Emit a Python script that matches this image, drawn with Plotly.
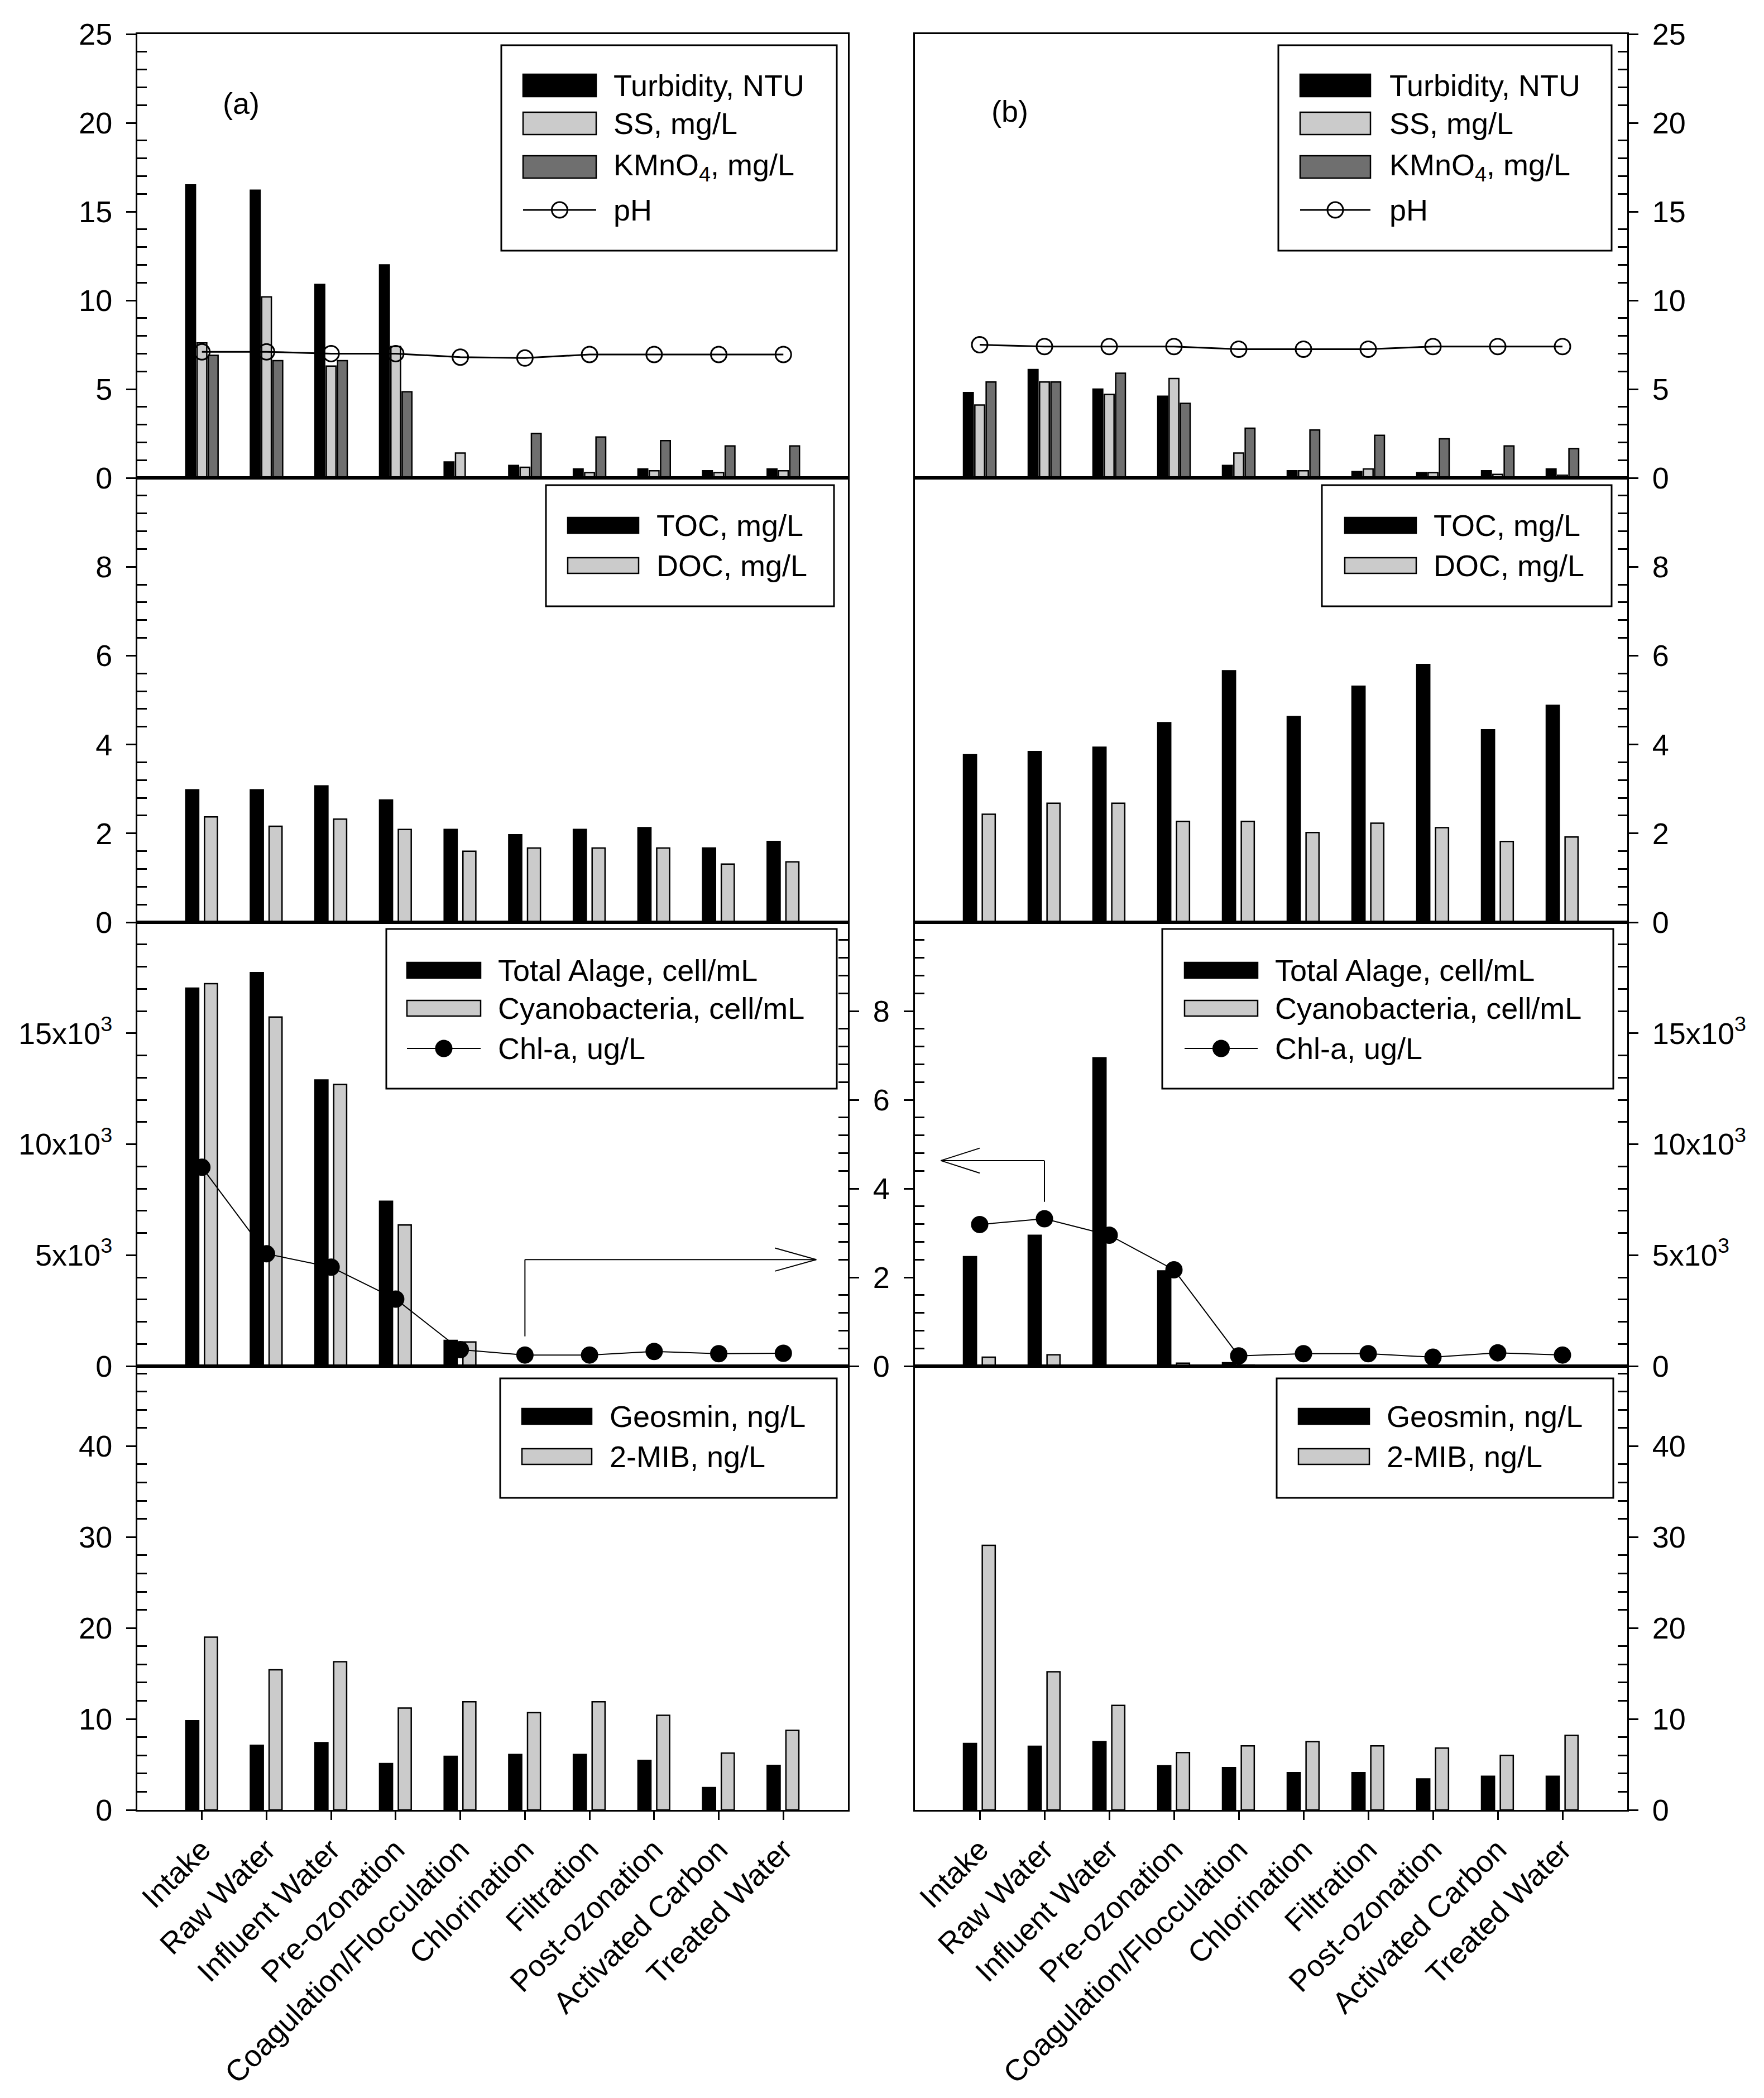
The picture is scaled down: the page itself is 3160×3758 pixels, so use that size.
import plotly.graph_objects as go

# ---------------- data ----------------
CATEGORIES = ["Intake", "Raw Water", "Influent Water", "Pre-ozonation",
              "Coagulation/Flocculation", "Chlorination", "Filtration",
              "Post-ozonation", "Activated Carbon", "Treated Water"]

A_TURBIDITY = [16.5, 16.2, 10.9, 12.0, 0.9, 0.7, 0.5, 0.5, 0.4, 0.5]
A_SS = [7.6, 10.2, 6.3, 7.4, 1.4, 0.6, 0.3, 0.4, 0.3, 0.4]
A_KMNO4 = [6.9, 6.6, 6.6, 4.85, None, 2.5, 2.3, 2.1, 1.8, 1.8]
A_PH = [7.1, 7.1, 7.0, 7.0, 6.8, 6.75, 6.95, 6.95, 6.95, 6.95]

B_TURBIDITY = [4.8, 6.1, 5.0, 4.6, 0.7, 0.4, 0.35, 0.3, 0.4, 0.5]
B_SS = [4.1, 5.4, 4.7, 5.6, 1.4, 0.4, 0.5, 0.3, 0.2, 0.15]
B_KMNO4 = [5.4, 5.4, 5.9, 4.2, 2.8, 2.7, 2.4, 2.2, 1.8, 1.65]
B_PH = [7.5, 7.4, 7.4, 7.4, 7.25, 7.25, 7.25, 7.4, 7.4, 7.4]

A_TOC = [2.98, 2.98, 3.07, 2.75, 2.09, 1.97, 2.09, 2.13, 1.67, 1.82]
A_DOC = [2.37, 2.16, 2.32, 2.09, 1.60, 1.67, 1.67, 1.67, 1.31, 1.36]
B_TOC = [3.77, 3.84, 3.94, 4.49, 5.66, 4.63, 5.31, 5.80, 4.33, 4.88]
B_DOC = [2.43, 2.68, 2.68, 2.27, 2.27, 2.02, 2.23, 2.13, 1.82, 1.92]

A_ALGAE = [17030, 17730, 12890, 7430, 1160, None, None, None, None, None]
A_CYANO = [17230, 15730, 12690, 6360, 1090, None, None, None, None, None]
A_CHLA = [4.48, 2.53, 2.23, 1.51, 0.37, 0.25, 0.25, 0.33, 0.28, 0.29]
B_ALGAE = [4930, 5890, 13890, 4290, 150, None, None, None, None, None]
B_CYANO = [400, 510, None, 130, 50, None, None, None, None, None]
B_CHLA = [3.19, 3.32, 2.95, 2.17, 0.23, 0.28, 0.28, 0.20, 0.30, 0.25]

A_GEOSMIN = [9.8, 7.1, 7.4, 5.1, 5.9, 6.1, 6.1, 5.45, 2.45, 4.9]
A_MIB = [19.0, 15.4, 16.3, 11.2, 11.9, 10.7, 11.9, 10.4, 6.25, 8.75]
B_GEOSMIN = [7.3, 7.0, 7.5, 4.85, 4.65, 4.1, 4.1, 3.4, 3.7, 3.7]
B_MIB = [29.1, 15.2, 11.5, 6.3, 7.05, 7.5, 7.05, 6.8, 6.0, 8.2]

ROW3_TICKTEXT = ["0", "5x10<sup>3</sup>", "10x10<sup>3</sup>", "15x10<sup>3</sup>"]

# ---------------- style / geometry ----------------
W, H = 3160, 3758
PAGE_OFFSET = 8  # default page margin of the html body
FONT = "Liberation Sans, Arial, sans-serif"
FS = 54
LIGHT = "#cbcbcb"
DARK = "#6f6f6f"
LW = 3

PANEL_X = {"a": (246, 1519), "b": (1639, 2915)}
ROW_Y = [(61, 856), (856, 1652), (1652, 2447), (2447, 3242)]


def fx(p):
    return (p - PAGE_OFFSET) / W


def fy(p):
    return 1 - (p - PAGE_OFFSET) / H


def xkey(i):
    return "xaxis" if i == 1 else f"xaxis{i}"


def ykey(i):
    return "yaxis" if i == 1 else f"yaxis{i}"


def xref(i):
    return "x" if i == 1 else f"x{i}"


def yref(i):
    return "y" if i == 1 else f"y{i}"


ROW_SPECS = [
    dict(range=[0, 25], major=[0, 5, 10, 15, 20, 25], text=None, step=1.0),
    dict(range=[0, 10], major=[0, 2, 4, 6, 8], text=None, step=0.4),
    dict(range=[0, 20000], major=[0, 5000, 10000, 15000], text=ROW3_TICKTEXT, step=1000),
    dict(range=[0, 48.8], major=[0, 10, 20, 30, 40], text=None, step=2),
]


def minor_vals(lo, hi, step, majors):
    out = []
    n = int(round((hi - lo) / step))
    for k in range(1, n + 1):
        v = round(lo + k * step, 6)
        if v >= hi - 1e-9:
            continue
        if all(abs(v - m) > step * 0.01 for m in majors):
            out.append(v)
    return out


AX_LINE = dict(showline=True, linecolor="black", linewidth=LW, zeroline=False,
               showgrid=False, automargin=False)
TICKFONT = dict(family=FONT, size=FS, color="black")

layout = dict(width=W, height=H, margin=dict(l=0, r=0, t=0, b=0, pad=0),
              autosize=False,
              plot_bgcolor="white", paper_bgcolor="white", showlegend=False,
              barmode="overlay", hovermode=False,
              font=dict(family=FONT, size=FS, color="black"))


def yaxis_spec(spec, side, show_ticks, show_labels, anchor, overlay=None,
               domain=None):
    d = dict(AX_LINE)
    d.update(range=spec["range"], side=side, anchor=anchor, tickfont=TICKFONT)
    if domain is not None:
        d["domain"] = domain
    if overlay:
        d["overlaying"] = overlay
    else:
        d["mirror"] = True
    if show_ticks:
        d.update(tickmode="array", tickvals=spec["major"],
                 ticktext=spec["text"] if spec["text"] else [str(v) for v in spec["major"]],
                 ticks="outside", ticklen=17, tickwidth=LW, tickcolor="black",
                 showticklabels=show_labels, ticklabelstandoff=14,
                 minor=dict(tickmode="array",
                            tickvals=minor_vals(spec["range"][0], spec["range"][1],
                                                spec["step"], spec["major"]),
                            ticks="inside", ticklen=17, tickwidth=LW,
                            tickcolor="black", showgrid=False))
    else:
        d.update(ticks="", showticklabels=False)
    return d


for panel, base in (("a", 0), ("b", 4)):
    side = "left" if panel == "a" else "right"
    xd = [fx(PANEL_X[panel][0]), fx(PANEL_X[panel][1])]
    for r in range(4):
        i = base + r + 1
        yd = [fy(ROW_Y[r][1]), fy(ROW_Y[r][0])]
        xa = dict(AX_LINE)
        xa.update(domain=xd, anchor=yref(i), type="category", range=[-1, 10],
                  categoryorder="array", categoryarray=CATEGORIES, mirror=True)
        if r == 3:
            xa.update(ticks="outside", ticklen=15, tickwidth=LW, tickcolor="black",
                      tickangle=-45, showticklabels=True, tickfont=TICKFONT)
        else:
            xa.update(ticks="", showticklabels=False)
        layout[xkey(i)] = xa
        layout[ykey(i)] = yaxis_spec(ROW_SPECS[r], side, True, True, xref(i),
                                     domain=yd)

CHLA_SPEC = dict(range=[0, 10], major=[0, 2, 4, 6, 8], text=None, step=0.4)
layout["yaxis9"] = yaxis_spec(CHLA_SPEC, "right", True, True, "x3", overlay="y3")
layout["yaxis10"] = yaxis_spec(CHLA_SPEC, "left", True, False, "x7", overlay="y7")

fig = go.Figure()


def bar(i, y, color, offset, width, yax=None):
    fig.add_trace(go.Bar(x=CATEGORIES, y=y, xaxis=xref(i), yaxis=yax or yref(i),
                         offset=offset, width=width,
                         marker=dict(color=color, line=dict(color="black", width=2.5)),
                         hoverinfo="skip"))


def line(i, y, yax, symbol, lw):
    fig.add_trace(go.Scatter(x=CATEGORIES, y=y, xaxis=xref(i), yaxis=yax,
                             mode="lines+markers",
                             line=dict(color="black", width=lw),
                             marker=dict(symbol=symbol, size=28, color="black",
                                         line=dict(color="black", width=3)),
                             hoverinfo="skip"))


# row 1
for base, turb, ss, kmno, ph in ((0, A_TURBIDITY, A_SS, A_KMNO4, A_PH),
                                 (4, B_TURBIDITY, B_SS, B_KMNO4, B_PH)):
    i = base + 1
    bar(i, turb, "black", -0.25, 0.15)
    bar(i, ss, LIGHT, -0.075, 0.15)
    bar(i, kmno, DARK, 0.10, 0.15)
    line(i, ph, yref(i), "circle-open", 3)

# row 2
for base, toc, doc in ((0, A_TOC, A_DOC), (4, B_TOC, B_DOC)):
    i = base + 2
    bar(i, toc, "black", -0.25, 0.2)
    bar(i, doc, LIGHT, 0.04, 0.2)

# row 3
for base, alg, cy, chl, chl_ax in ((0, A_ALGAE, A_CYANO, A_CHLA, "y9"),
                                   (4, B_ALGAE, B_CYANO, B_CHLA, "y10")):
    i = base + 3
    bar(i, alg, "black", -0.25, 0.2)
    bar(i, cy, LIGHT, 0.04, 0.2)
    line(i, chl, chl_ax, "circle", 2)

# row 4
for base, geo, mib in ((0, A_GEOSMIN, A_MIB), (4, B_GEOSMIN, B_MIB)):
    i = base + 4
    bar(i, geo, "black", -0.25, 0.2)
    bar(i, mib, LIGHT, 0.04, 0.2)

# ---------------- manual legends ----------------
shapes = []
annotations = []


def box(x0, y0, x1, y1):
    shapes.append(dict(type="rect", xref="paper", yref="paper", x0=fx(x0), x1=fx(x1),
                       y0=fy(y1), y1=fy(y0), line=dict(color="black", width=LW),
                       fillcolor="white", layer="above"))


def swatch(x0, x1, yc, h, color):
    shapes.append(dict(type="rect", xref="paper", yref="paper", x0=fx(x0), x1=fx(x1),
                       y0=fy(yc + h / 2), y1=fy(yc - h / 2),
                       line=dict(color="black", width=2.5), fillcolor=color,
                       layer="above"))


def lmarker(x0, x1, yc, filled, lw):
    shapes.append(dict(type="line", xref="paper", yref="paper", x0=fx(x0), x1=fx(x1),
                       y0=fy(yc), y1=fy(yc), line=dict(color="black", width=lw),
                       layer="above"))
    cx = (x0 + x1) / 2
    shapes.append(dict(type="circle", xref="paper", yref="paper",
                       xsizemode="pixel", ysizemode="pixel",
                       xanchor=fx(cx), yanchor=fy(yc), x0=-14, x1=14, y0=-14, y1=14,
                       line=dict(color="black", width=3),
                       fillcolor="black" if filled else "rgba(0,0,0,0)",
                       layer="above"))


def text(x, yc, s):
    annotations.append(dict(xref="paper", yref="paper", x=fx(x), y=fy(yc), text=s,
                            xanchor="left", yanchor="middle", showarrow=False,
                            font=dict(family=FONT, size=FS, color="black")))


LEG1 = [("black", "Turbidity, NTU", 153), (LIGHT, "SS, mg/L", 221),
        (DARK, "KMnO<sub>4</sub>, mg/L", 299)]
for bx, sx, tx in (((898, 81, 1499, 449), (937, 1068), 1097),
                   ((2290, 81, 2887, 449), (2329, 2455), 2487)):
    box(*bx)
    for col, lab, yc in LEG1:
        swatch(sx[0], sx[1], yc, 40, col)
        text(tx, yc, lab)
    lmarker(sx[0], sx[1], 376, False, 3)
    text(tx, 376, "pH")

for bx, sx, tx in (((978, 869, 1494, 1086), (1017, 1144), 1174),
                   ((2368, 869, 2887, 1086), (2409, 2537), 2566)):
    box(*bx)
    swatch(sx[0], sx[1], 941, 28, "black")
    text(tx, 941, "TOC, mg/L")
    swatch(sx[0], sx[1], 1013, 28, LIGHT)
    text(tx, 1013, "DOC, mg/L")

for bx, sx, tx in (((692, 1664, 1499, 1950), (729, 861), 890),
                   ((2082, 1664, 2890, 1950), (2122, 2253), 2282)):
    box(*bx)
    swatch(sx[0], sx[1], 1738, 28, "black")
    text(tx, 1738, "Total Alage, cell/mL")
    swatch(sx[0], sx[1], 1806, 28, LIGHT)
    text(tx, 1806, "Cyanobacteria, cell/mL")
    lmarker(sx[0], sx[1], 1878, True, 2)
    text(tx, 1878, "Chl-a, ug/L")

for bx, sx, tx in (((896, 2469, 1499, 2683), (935, 1060), 1090),
                   ((2287, 2469, 2890, 2683), (2326, 2453), 2482)):
    box(*bx)
    swatch(sx[0], sx[1], 2537, 28, "black")
    text(tx, 2537, "Geosmin, ng/L")
    swatch(sx[0], sx[1], 2609, 28, LIGHT)
    text(tx, 2609, "2-MIB, ng/L")

# panel labels
for lab, x, y in (("(a)", 432, 185), ("(b)", 1809, 199)):
    annotations.append(dict(xref="paper", yref="paper", x=fx(x), y=fy(y), text=lab,
                            xanchor="center", yanchor="middle", showarrow=False,
                            font=dict(family=FONT, size=FS, color="black")))


# ---------------- axis pointer arrows (row 3) ----------------
def seg(xr, yr, x0, y0, x1, y1, w=2):
    shapes.append(dict(type="line", xref=xr, yref=yr, x0=x0, y0=y0, x1=x1, y1=y1,
                       line=dict(color="black", width=w), layer="above"))


# panel (a): points to the right-hand Chl-a axis
seg("x3", "y9", 5, 0.67, 5, 2.4)
seg("x3", "y9", 5, 2.4, 9.51, 2.4)
seg("x3", "y9", 8.87, 2.66, 9.51, 2.4)
seg("x3", "y9", 8.87, 2.14, 9.51, 2.4)
# panel (b): points to the left-hand Chl-a axis
seg("x7", "y10", 1, 3.7, 1, 4.63)
seg("x7", "y10", 1, 4.63, -0.6, 4.63)
seg("x7", "y10", 0.0, 4.91, -0.6, 4.63)
seg("x7", "y10", 0.0, 4.35, -0.6, 4.63)

layout["shapes"] = shapes
layout["annotations"] = annotations
fig.update_layout(**layout)
fig.write_html("out.html")
